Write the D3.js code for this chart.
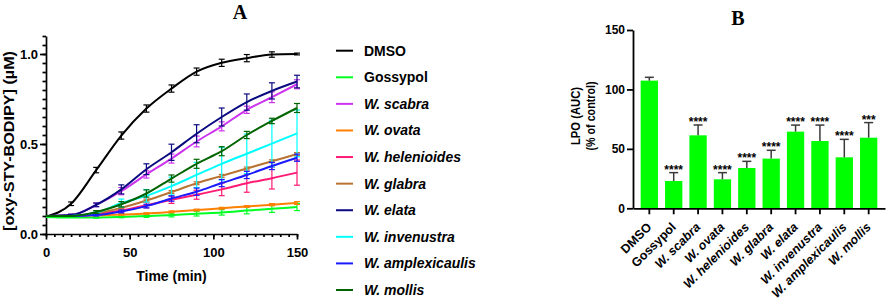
<!DOCTYPE html>
<html><head><meta charset="utf-8">
<script src="https://cdn.jsdelivr.net/npm/d3@7/dist/d3.min.js"></script>
<style>
body{margin:0;background:#fff}
text{font-family:"Liberation Sans",Arial,Helvetica,sans-serif;font-weight:bold;fill:#000}
</style>
</head><body>
<svg id="c" width="886" height="304"></svg>
<script>
// ---------- Panel A data ----------
const times = [0,15,30,45,60,75,90,105,120,135,150];
const seriesNames = ["DMSO","Gossypol","W. scabra","W. ovata","W. helenioides","W. glabra","W. elata","W. invenustra","W. amplexicaulis","W. mollis"];
const vDMSO   = [0.095,0.168,0.355,0.547,0.697,0.808,0.902,0.951,0.977,0.997,1.0];
const eDMSO   = [0,0.01,0.015,0.02,0.02,0.02,0.02,0.02,0.02,0.015,0.005];
const vGossypol = [0.095,0.092,0.092,0.095,0.1,0.105,0.113,0.12,0.13,0.14,0.15];
const eGossypol = [0,0,0.004,0.005,0.008,0.01,0.013,0.015,0.018,0.02,0.02];
const vScabra = [0.1,0.105,0.162,0.238,0.331,0.419,0.514,0.598,0.69,0.76,0.832];
const eScabra = [0,0.005,0.01,0.02,0.02,0.025,0.03,0.025,0.02,0.03,0.025];
const vOvata  = [0.1,0.1,0.103,0.108,0.114,0.123,0.133,0.143,0.153,0.163,0.172];
const eOvata  = [0,0,0,0.004,0.004,0.005,0.005,0.005,0.005,0.006,0.008];
const vHelen  = [0.1,0.1,0.11,0.13,0.16,0.19,0.218,0.248,0.282,0.31,0.341];
const eHelen  = [0,0,0.005,0.01,0.015,0.02,0.025,0.035,0.05,0.06,0.07];
const vGlabra = [0.1,0.1,0.115,0.145,0.186,0.233,0.282,0.323,0.364,0.404,0.444];
const eGlabra = [0,0,0.004,0.006,0.008,0.008,0.008,0.008,0.008,0.008,0.008];
const vElata  = [0.1,0.105,0.162,0.248,0.36,0.454,0.557,0.65,0.733,0.795,0.847];
const eElata  = [0,0.005,0.01,0.025,0.03,0.045,0.05,0.05,0.045,0.045,0.035];
const vInven  = [0.1,0.1,0.118,0.172,0.212,0.266,0.328,0.39,0.446,0.502,0.559];
const eInven  = [0,0,0.01,0.022,0.035,0.05,0.07,0.09,0.11,0.13,0.13];
const vAmplex = [0.1,0.1,0.105,0.125,0.155,0.197,0.235,0.283,0.328,0.378,0.424];
const eAmplex = [0,0,0.005,0.008,0.01,0.015,0.02,0.02,0.02,0.02,0.02];
const vMollis = [0.1,0.1,0.122,0.165,0.225,0.308,0.39,0.46,0.55,0.628,0.7];
const eMollis = [0,0,0.008,0.015,0.02,0.02,0.025,0.025,0.02,0.015,0.025];
const seriesValues = [vDMSO,vGossypol,vScabra,vOvata,vHelen,vGlabra,vElata,vInven,vAmplex,vMollis];
const seriesErrors = [eDMSO,eGossypol,eScabra,eOvata,eHelen,eGlabra,eElata,eInven,eAmplex,eMollis];
const seriesColors = ["#000000","#00ff22","#cc33ee","#ff8000","#ff1a75","#b87333","#0a0a80","#00ffff","#1a1aff","#006400"];
const xTicksA = [0,50,100,150];
const yTicksA = [0,0.5,1.0];

// ---------- Panel B data ----------
const barCategories = ["DMSO","Gossypol","W. scabra","W. ovata","W. helenioides","W. glabra","W. elata","W. invenustra","W. amplexicaulis","W. mollis"];
const barValues = [107.4,23.0,61.4,24.4,33.9,41.8,64.5,56.6,42.9,59.4];
const barErrors = [2.8,7.0,8.7,5.6,5.6,7.0,5.5,13.4,15.1,12.7];
const barStars  = ["","****","****","****","****","****","****","****","****","***"];
const yTicksB = [0,50,100,150];

const svg = d3.select("#c");
const isItalic = s => s.startsWith("W.");

// ================= Panel A =================
const xA = d3.scaleLinear().domain([0,150]).range([46,297]);
const yA = d3.scaleLinear().domain([0,1.1]).range([234,36]);

const gA = svg.append("g");
// minor ticks
gA.append("g").attr("transform","translate(0,234)")
  .call(d3.axisBottom(xA).tickValues(d3.range(0,31).map(i=>i*5)).tickSize(3).tickSizeOuter(0).tickFormat(""))
  .call(g=>g.select(".domain").remove());
gA.append("g").attr("transform","translate(46,0)")
  .call(d3.axisLeft(yA).tickValues(d3.range(0,23).map(i=>i*0.05)).tickSize(3.5).tickSizeOuter(0).tickFormat(""))
  .call(g=>g.select(".domain").remove());
const axXA = gA.append("g").attr("transform","translate(0,234)")
  .call(d3.axisBottom(xA).tickValues(xTicksA).tickSize(5.5).tickSizeOuter(0).tickFormat(d3.format("d")));
const axYA = gA.append("g").attr("transform","translate(46,0)")
  .call(d3.axisLeft(yA).tickValues(yTicksA).tickSize(6).tickSizeOuter(0).tickFormat(d3.format(".1f")));
gA.selectAll(".domain, .tick line").attr("stroke","#000").attr("stroke-width",1.7);
axXA.selectAll("text").attr("font-size",13).attr("dy","1.15em");
axYA.selectAll("text").attr("font-size",13).attr("x",-8);
axXA.attr("font-family",null); axYA.attr("font-family",null);

const line = d3.line().x((d,i)=>xA(times[i])).y(d=>yA(d)).curve(d3.curveMonotoneX);
seriesValues.forEach((vals,si)=>{
  const col = seriesColors[si];
  const g = gA.append("g");
  const errs = seriesErrors[si];
  const eb = g.selectAll("g.eb").data(vals.map((v,i)=>({t:times[i],v,e:errs[i]})).filter(d=>d.e>0)).join("g");
  eb.append("line").attr("x1",d=>xA(d.t)).attr("x2",d=>xA(d.t)).attr("y1",d=>yA(d.v-d.e)).attr("y2",d=>yA(d.v+d.e))
    .attr("stroke",col).attr("stroke-width",1.2);
  eb.append("line").attr("x1",d=>xA(d.t)-3).attr("x2",d=>xA(d.t)+3).attr("y1",d=>yA(d.v+d.e)).attr("y2",d=>yA(d.v+d.e))
    .attr("stroke",col).attr("stroke-width",1.2);
  eb.append("line").attr("x1",d=>xA(d.t)-3).attr("x2",d=>xA(d.t)+3).attr("y1",d=>yA(d.v-d.e)).attr("y2",d=>yA(d.v-d.e))
    .attr("stroke",col).attr("stroke-width",1.2);
  g.append("path").attr("d",line(vals)).attr("fill","none").attr("stroke",col).attr("stroke-width",2);
});

gA.append("text").attr("x",xA(75)).attr("y",281).attr("text-anchor","middle").attr("font-size",14).text("Time (min)");
gA.append("text").attr("transform","translate(14,141) rotate(-90)").attr("text-anchor","middle")
  .attr("font-size",14).attr("textLength",180).attr("lengthAdjust","spacingAndGlyphs").text("[oxy-STY-BODIPY] (µM)");
gA.append("text").attr("x",240).attr("y",18.5).attr("text-anchor","middle").attr("font-size",20)
  .style("font-family","'Liberation Serif','Times New Roman',serif").text("A");

// Legend
const leg = svg.append("g");
const legY = d3.scalePoint().domain(seriesNames).range([50.7,290]);
seriesNames.forEach((n,i)=>{
  leg.append("line").attr("x1",336).attr("x2",353).attr("y1",legY(n)).attr("y2",legY(n))
    .attr("stroke",seriesColors[i]).attr("stroke-width",2);
  leg.append("text").attr("x",364).attr("y",legY(n)+5).attr("font-size",14)
    .attr("font-style",isItalic(n)?"italic":"normal").text(n);
});

// ================= Panel B =================
const xB = d3.scaleBand().domain(barCategories).range([633,885]).paddingInner(0.29).paddingOuter(0.315);
const yB = d3.scaleLinear().domain([0,150]).range([208.3,30]);
const gB = svg.append("g");
gB.selectAll("rect.bar").data(barValues).join("rect").attr("class","bar")
  .attr("x",(d,i)=>xB(barCategories[i])).attr("width",xB.bandwidth())
  .attr("y",d=>yB(d)).attr("height",d=>yB(0)-yB(d)).attr("fill","#00ff00");
const ebB = gB.selectAll("g.ebB").data(barValues.map((v,i)=>({c:barCategories[i],v,e:barErrors[i],s:barStars[i]}))).join("g");
ebB.append("line").attr("x1",d=>xB(d.c)+xB.bandwidth()/2).attr("x2",d=>xB(d.c)+xB.bandwidth()/2)
  .attr("y1",d=>yB(d.v)).attr("y2",d=>yB(d.v+d.e)).attr("stroke","#3a3a3a").attr("stroke-width",1.5);
ebB.append("line").attr("x1",d=>xB(d.c)+xB.bandwidth()/2-4.5).attr("x2",d=>xB(d.c)+xB.bandwidth()/2+4.5)
  .attr("y1",d=>yB(d.v+d.e)).attr("y2",d=>yB(d.v+d.e)).attr("stroke","#3a3a3a").attr("stroke-width",1.5);
ebB.append("text").attr("x",d=>xB(d.c)+xB.bandwidth()/2).attr("y",d=>yB(d.v+d.e)+1)
  .attr("text-anchor","middle").attr("font-size",12).text(d=>d.s);

const axXB = gB.append("g").attr("transform","translate(0,208.3)")
  .call(d3.axisBottom(xB).tickSize(6).tickSizeOuter(0));
const axYB = gB.append("g").attr("transform","translate(633,0)")
  .call(d3.axisLeft(yB).tickValues(yTicksB).tickSize(6).tickSizeOuter(0));
axXB.attr("font-family",null); axYB.attr("font-family",null);
gB.selectAll(".domain, .tick line").attr("stroke","#000").attr("stroke-width",1.8);
axYB.selectAll("text").attr("font-size",12).attr("x",-8);
axXB.selectAll("text").attr("font-size",12.5).attr("text-anchor","end")
  .attr("font-style",d=>isItalic(d)?"italic":"normal")
  .attr("x",0).attr("y",0).attr("dy",0)
  .attr("transform","translate(3,19.5) rotate(-45)");

gB.append("text").attr("transform","translate(580,116) rotate(-90)").attr("text-anchor","middle")
  .attr("font-size",13).attr("textLength",58).attr("lengthAdjust","spacingAndGlyphs").text("LPO (AUC)");
gB.append("text").attr("transform","translate(595,116) rotate(-90)").attr("text-anchor","middle")
  .attr("font-size",13).attr("textLength",69).attr("lengthAdjust","spacingAndGlyphs").text("(% of control)");
gB.append("text").attr("x",738).attr("y",25).attr("text-anchor","middle").attr("font-size",20)
  .style("font-family","'Liberation Serif','Times New Roman',serif").text("B");
</script>
</body></html>
